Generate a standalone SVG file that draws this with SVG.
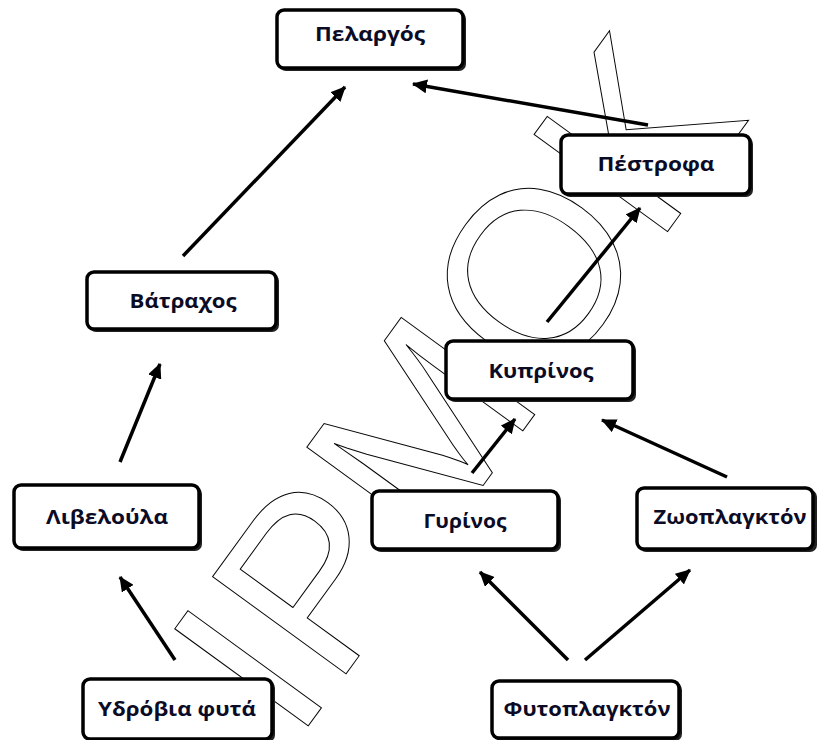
<svg xmlns="http://www.w3.org/2000/svg" width="817" height="740" viewBox="0 0 817 740">
<defs>
<style>
.box{fill:#fff;stroke:#000;stroke-width:3.5}
.sh{fill:#222}
.lbl{font-family:"Open Sans","DejaVu Sans",sans-serif;font-weight:bold;font-size:20px;fill:#0b0b26;text-anchor:middle}
.edge{stroke:#000;stroke-width:3.5;fill:none;marker-end:url(#ah)}
.wm{font-family:"Liberation Sans",Arial,sans-serif;font-size:240px;fill:none;stroke:#000;stroke-width:1}
</style>
<marker id="ah" markerUnits="userSpaceOnUse" markerWidth="16" markerHeight="14" refX="14" refY="7" orient="auto">
<path d="M0,0 L15,7 L0,14 Z" fill="#000"/>
</marker>
</defs>
<rect width="817" height="740" fill="#fff"/>
<g id="watermark" transform="translate(601,323) rotate(-54)">
<text class="wm" x="-520" y="0">IPMOK</text>
</g>
<g id="connectors">
<line class="edge" x1="183" y1="256" x2="345" y2="87"/>
<line class="edge" x1="648" y1="125" x2="413" y2="84"/>
<line class="edge" x1="547" y1="322" x2="640" y2="208"/>
<line class="edge" x1="120" y1="462" x2="160" y2="364"/>
<line class="edge" x1="472" y1="473" x2="515" y2="419"/>
<line class="edge" x1="727" y1="477" x2="602" y2="420"/>
<line class="edge" x1="175" y1="660" x2="120" y2="577"/>
<line class="edge" x1="568" y1="660" x2="480" y2="572"/>
<line class="edge" x1="585" y1="660" x2="690" y2="570"/>
</g>
<g id="n-pelargos">
<rect class="sh" x="279" y="12" width="187" height="59" rx="7"/>
<rect class="box" x="277" y="10" width="186" height="58" rx="7"/>
<text class="lbl" x="370" y="41" textLength="110" lengthAdjust="spacingAndGlyphs">Πελαργός</text>
</g>
<g id="n-pestrofa">
<rect class="sh" x="563" y="137" width="190" height="60" rx="7"/>
<rect class="box" x="561" y="135" width="189" height="59" rx="7"/>
<text class="lbl" x="656" y="171" textLength="117" lengthAdjust="spacingAndGlyphs">Πέστροφα</text>
</g>
<g id="n-batrachos">
<rect class="sh" x="89" y="274" width="190" height="58" rx="7"/>
<rect class="box" x="87" y="272" width="189" height="57" rx="7"/>
<text class="lbl" x="183" y="308" textLength="107" lengthAdjust="spacingAndGlyphs">Βάτραχος</text>
</g>
<g id="n-kyprinos">
<rect class="sh" x="448" y="343" width="188" height="59" rx="7"/>
<rect class="box" x="446" y="341" width="187" height="58" rx="7"/>
<text class="lbl" x="541" y="378" textLength="105" lengthAdjust="spacingAndGlyphs">Κυπρίνος</text>
</g>
<g id="n-libeloula">
<rect class="sh" x="16" y="487" width="186" height="64" rx="7"/>
<rect class="box" x="14" y="485" width="185" height="63" rx="7"/>
<text class="lbl" x="107" y="524" textLength="122" lengthAdjust="spacingAndGlyphs">Λιβελούλα</text>
</g>
<g id="n-gyrinos">
<rect class="sh" x="374" y="493" width="187" height="59" rx="7"/>
<rect class="box" x="372" y="491" width="186" height="58" rx="7"/>
<text class="lbl" x="465" y="528" textLength="83" lengthAdjust="spacingAndGlyphs">Γυρίνος</text>
</g>
<g id="n-zooplankton">
<rect class="sh" x="639" y="490" width="178" height="62" rx="7"/>
<rect class="box" x="637" y="488" width="176" height="61" rx="7"/>
<text class="lbl" x="730" y="524" textLength="153" lengthAdjust="spacingAndGlyphs">Ζωοπλαγκτόν</text>
</g>
<g id="n-ydrobia">
<rect class="sh" x="85" y="681" width="190" height="61" rx="7"/>
<rect class="box" x="83" y="679" width="189" height="60" rx="7"/>
<text class="lbl" x="177" y="716" textLength="158" lengthAdjust="spacingAndGlyphs">Υδρόβια φυτά</text>
</g>
<g id="n-fytoplankton">
<rect class="sh" x="494" y="683" width="188" height="58" rx="7"/>
<rect class="box" x="492" y="681" width="187" height="57" rx="7"/>
<text class="lbl" x="587" y="716" textLength="167" lengthAdjust="spacingAndGlyphs">Φυτοπλαγκτόν</text>
</g>
</svg>
